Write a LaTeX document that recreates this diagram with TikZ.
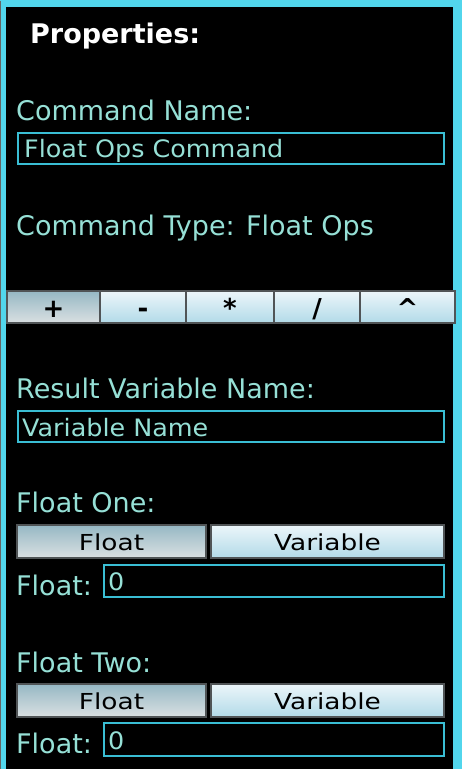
\documentclass[tikz,border=0pt]{standalone}
\usepackage{fontspec}
\setmainfont{DejaVu Sans}
\newfontfamily\labfont{DejaVu Sans}
\newfontfamily\boxfont[FakeStretch=1.06]{DejaVu Sans}
\newfontfamily\widefont[FakeStretch=1.2]{DejaVu Sans}
\definecolor{frame}{RGB}{82,214,236}
\definecolor{labtxt}{RGB}{150,224,214}
\definecolor{boxline}{RGB}{58,190,212}
\definecolor{btntop}{RGB}{236,246,250}
\definecolor{btnbot}{RGB}{178,218,232}
\definecolor{seltop}{RGB}{150,184,196}
\definecolor{selbot}{RGB}{218,224,226}
\definecolor{btnedge}{RGB}{80,84,86}
\tikzset{
  lab/.style={anchor=base west, inner sep=0pt, text=labtxt, font=\labfont\fontsize{27}{31}\selectfont},
  boxtxt/.style={anchor=base west, inner sep=0pt, text=labtxt, font=\boxfont\fontsize{24}{28}\selectfont},
  field/.style={draw=boxline, line width=2pt, fill=black},
  btn/.style={draw=btnedge, line width=1.6pt, top color=btntop, bottom color=btnbot},
  selbtn/.style={draw=btnedge, line width=1.6pt, top color=seltop, bottom color=selbot},
  btntxt/.style={anchor=base, inner sep=0pt, text=black, font=\widefont\fontsize{22}{26}\selectfont},
  optxt/.style={anchor=base, inner sep=0pt, text=black, font=\labfont\bfseries\fontsize{26}{30}\selectfont},
}
\begin{document}
\begin{tikzpicture}[x=1pt,y=-1pt]
\useasboundingbox (0,0) rectangle (462,769);
% frame
\fill[frame] (0,0) rectangle (462,769);
\fill[black] (6,7) rectangle (453,769);
\draw[black!60, line width=1pt] (0.5,0.5) -- (0.5,769);
% title
\node[anchor=base west, inner sep=0pt, text=white, font=\labfont\bfseries\fontsize{27}{31}\selectfont] (title) at (30,43) {Properties:};
% command name
\node[lab] (cnlab) at (16,120) {Command Name:};
\draw[field] (18,133) rectangle (444,164);
\node[boxtxt] (cnval) at (24,157) {Float Ops Command};
% command type
\node[lab] (ctlab) at (16,235) {Command Type: Float Ops};
% operator buttons
\draw[selbtn] (7,291) rectangle (100,323);
\draw[btn] (100,291) rectangle (186,323);
\draw[btn] (186,291) rectangle (274,323);
\draw[btn] (274,291) rectangle (360,323);
\draw[btn] (360,291) rectangle (455,323);
\node[optxt] (bplus) at (53.5,317) {+};
\node[optxt] (bminus) at (143,317) {-};
\node[optxt] (bstar) at (230,317) {*};
\node[optxt] (bslash) at (317,317) {/};
\node[optxt] (bpow) at (407.5,317) {\^{}};
% result variable
\node[lab] (rvlab) at (16,398) {Result Variable Name:};
\draw[field] (18,411) rectangle (444,442);
\node[boxtxt] (rvval) at (22,436) {Variable Name};
% float one
\node[lab] (f1lab) at (16,512) {Float One:};
\draw[selbtn] (17,525) rectangle (206,558);
\draw[btn] (211,525) rectangle (444,558);
\node[btntxt] (f1float) at (111.5,550) {Float};
\node[btntxt] (f1var) at (327.5,550) {Variable};
\node[lab] (f1flab) at (16,595) {Float:};
\draw[field] (104,565) rectangle (444,597);
\node[boxtxt] (f1val) at (108,590) {0};
% float two
\node[lab] (f2lab) at (16,672) {Float Two:};
\draw[selbtn] (17,684) rectangle (206,717);
\draw[btn] (211,684) rectangle (444,717);
\node[btntxt] (f2float) at (111.5,709) {Float};
\node[btntxt] (f2var) at (327.5,709) {Variable};
\node[lab] (f2flab) at (16,753) {Float:};
\draw[field] (104,723) rectangle (444,756);
\node[boxtxt] (f2val) at (108,749) {0};
\end{tikzpicture}
\end{document}
